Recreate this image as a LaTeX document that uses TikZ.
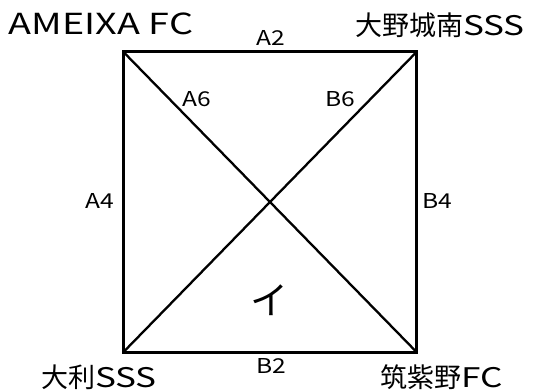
\documentclass[tikz,border=0pt]{standalone}
\usepackage{fontspec}
\setmainfont{Noto Sans CJK JP}
\newfontfamily\latw[FakeStretch=1.3]{Noto Sans CJK JP}
\newfontfamily\latl[FakeStretch=1.2]{Noto Sans CJK JP}
\begin{document}
\begin{tikzpicture}[x=1pt,y=1pt,
  team/.style={inner sep=0pt,anchor=base,font=\fontsize{27}{27}\selectfont},
  lab/.style={inner sep=0pt,anchor=base,font=\latl\fontsize{20.5}{20.5}\selectfont},
  edge/.style={line width=3pt},
  diag/.style={line width=2.3pt}]
\useasboundingbox (0,0) rectangle (536,389);
\coordinate (tl) at (123.5,337);
\coordinate (tr) at (416.5,337);
\coordinate (bl) at (123.5,37);
\coordinate (br) at (416.5,37);
\draw[diag] (tl) -- (br);
\draw[diag] (bl) -- (tr);
\draw[edge,line join=miter] (tl) -- (tr) -- (br) -- (bl) -- cycle;
\node[team] (t1) at (101,354) {{\latw\fontsize{29}{29}\selectfont AMEIXA FC}};
\node[team] (t2) at (440,353) {大野城南{\latw SSS}};
\node[team] (t3) at (99,2) {大利{\latw SSS}};
\node[team] (t4) at (442,2) {筑紫野{\latw FC}};
\node[lab] (a2) at (271,343) {A2};
\node[lab] (b2) at (271,16) {B2};
\node[lab] (a4) at (100,180) {A4};
\node[lab] (b4) at (437,180) {B4};
\node[lab] (a6) at (197,282) {A6};
\node[lab] (b6) at (340,282) {B6};
\node[team,font=\fontsize{38}{38}\selectfont] (i) at (269,75) {イ};
\end{tikzpicture}
\end{document}
